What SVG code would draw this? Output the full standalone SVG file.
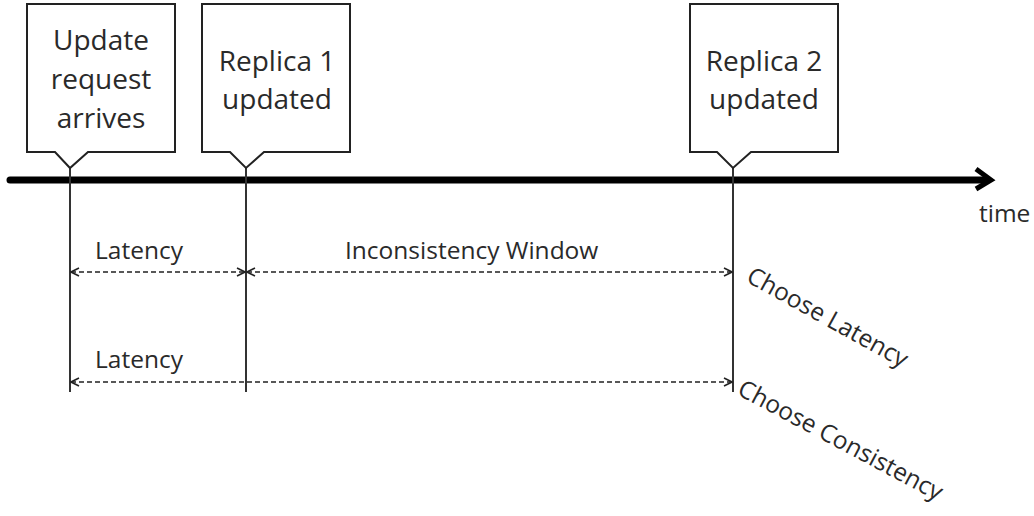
<svg xmlns="http://www.w3.org/2000/svg" width="1034" height="516" viewBox="0 0 1034 516">
<defs>
<style>
.box{fill:#fff;stroke:#222;stroke-width:2}
.bt{font-family:"Open Sans","Liberation Sans",sans-serif;font-size:28px;fill:#2a2a2a;text-anchor:middle}
.lt{font-family:"Open Sans","Liberation Sans",sans-serif;font-size:24.5px;fill:#2a2a2a}
.vl{stroke:#333;stroke-width:2;fill:none}
.dash{stroke:#222;stroke-width:1.6;stroke-dasharray:5 3;fill:none}
</style>
<marker id="ah" viewBox="0 0 10 10" refX="9" refY="5" markerWidth="10" markerHeight="10" markerUnits="userSpaceOnUse" orient="auto-start-reverse">
<path d="M1,1 L9,5 L1,9" fill="none" stroke="#222" stroke-width="1.6"/>
</marker>
</defs>
<rect width="1034" height="516" fill="#fff"/>
<g id="timeline">
<line x1="10" y1="180" x2="984" y2="180" stroke="#000" stroke-width="7" stroke-linecap="round"/>
<path d="M976,169 L991,180 L976,189" fill="none" stroke="#000" stroke-width="5" stroke-linejoin="miter"/>
<text x="979" y="222" class="lt">time</text>
</g>
<g id="connectors">
<line class="vl" x1="70" y1="168" x2="70" y2="392"/>
<line class="vl" x1="246" y1="168" x2="246" y2="392"/>
<line class="vl" x1="733" y1="168" x2="733" y2="392"/>
<line class="dash" x1="71" y1="272" x2="245" y2="272" marker-start="url(#ah)" marker-end="url(#ah)"/>
<line class="dash" x1="247" y1="272" x2="732" y2="272" marker-start="url(#ah)" marker-end="url(#ah)"/>
<line class="dash" x1="71" y1="382" x2="732" y2="382" marker-start="url(#ah)" marker-end="url(#ah)"/>
</g>
<g id="node-update">
<path class="box" d="M27,4 H175 V152 H88 L70,168 L55,152 H27 Z"/>
<text class="bt" x="101" y="50">Update</text>
<text class="bt" x="101" y="89">request</text>
<text class="bt" x="101" y="128">arrives</text>
</g>
<g id="node-replica1">
<path class="box" d="M202,4 H350 V152 H264 L246,168 L230,152 H202 Z"/>
<text class="bt" x="277" y="71">Replica 1</text>
<text class="bt" x="277" y="109">updated</text>
</g>
<g id="node-replica2">
<path class="box" d="M690,4 H838 V152 H751 L733,168 L717,152 H690 Z"/>
<text class="bt" x="764" y="71">Replica 2</text>
<text class="bt" x="764" y="109">updated</text>
</g>
<g id="labels">
<text class="lt" x="95" y="259">Latency</text>
<text class="lt" x="345" y="259">Inconsistency Window</text>
<text class="lt" x="95" y="368">Latency</text>
<text class="lt" x="745" y="281" transform="rotate(29 745 281)">Choose Latency</text>
<text class="lt" x="736" y="394" transform="rotate(28 736 394)">Choose Consistency</text>
</g>
</svg>
